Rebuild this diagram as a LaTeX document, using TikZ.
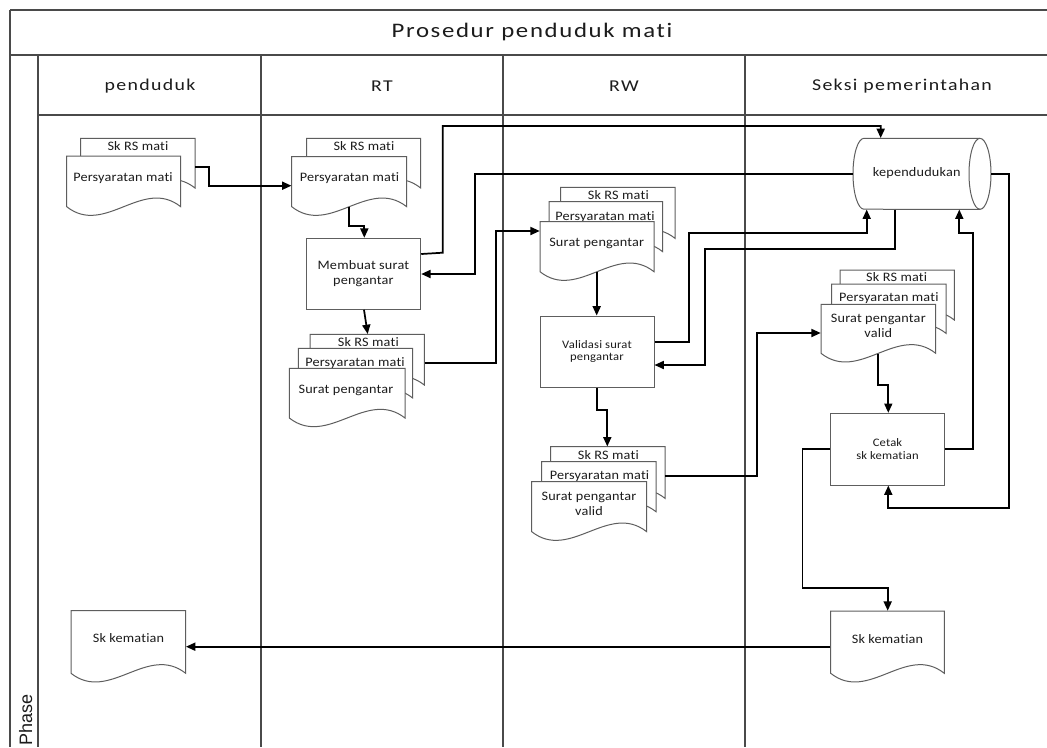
\documentclass[tikz,border=0pt]{standalone}
\usepackage{fontspec}
\setmainfont{Carlito}[Ligatures=NoCommon]
\newfontfamily\hdfont{Carlito}[FakeStretch=1.2, LetterSpace=8, Ligatures=NoCommon]
\newfontfamily\dcfont{Carlito}[FakeStretch=1.1, LetterSpace=1.5, Ligatures=NoCommon]
\newfontfamily\phfont{Liberation Sans}
\usetikzlibrary{arrows.meta,fit}

\definecolor{framegray}{HTML}{4A4A4A}
\definecolor{sheetgray}{HTML}{5E5E5E}
\definecolor{inkcol}{HTML}{1C1C1C}

\tikzset{
  frame/.style={draw=framegray, line width=0.8pt},
  sheet/.style={draw=sheetgray, line width=0.75pt, fill=white},
  procbox/.style={draw=sheetgray, line width=0.75pt, fill=white, inner sep=0pt, align=center, text=inkcol},
  flow/.style={draw=black, line width=1.3pt, -{Triangle[length=7pt,width=6pt]}},
  doctext/.style={font=\dcfont\fontsize{9.7pt}{10.8pt}\selectfont, align=center, inner sep=0pt, text=inkcol},
  lanetext/.style={font=\hdfont\fontsize{12.4pt}{15pt}\selectfont, inner sep=0pt, text=inkcol},
  titletext/.style={font=\hdfont\fontsize{15.5pt}{19pt}\selectfont, inner sep=0pt, text=inkcol},
  area/.style={inner sep=0pt, draw=none},
}

% document sheet with a wavy lower edge: name, x1, y1, x2, y2
\newcommand\docsheet[5]{%
  \path[sheet] (#2,#3) -- (#4,#3) -- (#4,#5)
    .. controls ({#4-(#4-#2)/3},{#5-30}) and ({#2+(#4-#2)/3},{#5+30}) .. (#2,#5) -- cycle;
  \node[area, fit={(#2,#3) (#4,#5)}] (#1) {};
}

\begin{document}
\begin{tikzpicture}[x=0.75pt, y=-0.75pt]
\useasboundingbox (0,0) rectangle (1047,747);
\fill[white] (0,0) rectangle (1047,747);
\clip (0,0) rectangle (1047,747);

% pool frame, title bar and swimlanes
\draw[frame] (10,10) -- (1047,10);
\draw[frame] (10,55) -- (1047,55);
\draw[frame] (10,10) -- (10,747);
\draw[frame] (38,55) -- (38,747);
\draw[frame] (38,115) -- (1047,115);
\draw[frame] (261,55) -- (261,747);
\draw[frame] (503,55) -- (503,747);
\draw[frame] (745,55) -- (745,747);

\node[titletext] (title) at (532,32) {Prosedur penduduk mati};
\node[lanetext] (lane1) at (150,86) {penduduk};
\node[lanetext] (lane2) at (382,86) {RT};
\node[lanetext] (lane3) at (624,86) {RW};
\node[lanetext] (lane4) at (902,86) {Seksi pemerintahan};
\node[font=\phfont\fontsize{13.5pt}{15pt}\selectfont, rotate=90, anchor=base west, inner sep=0pt, text=inkcol] (phase) at (32,746) {Phase};

% penduduk
\docsheet{penSk}{80.7}{138.3}{195}{188}
\node[doctext] (penSk-t) at (138,146) {Sk RS mati};
\docsheet{penPers}{66.7}{156}{180.7}{206.7}
\node[doctext] (penPers-t) at (123,178) {Persyaratan mati};

\docsheet{penKem}{71}{610.7}{185.7}{673.3}
\node[doctext] (penKem-t) at (128.5,638.5) {Sk kematian};

% RT
\docsheet{rtSk}{306.7}{138.3}{420.7}{188}
\node[doctext] (rtSk-t) at (364,146) {Sk RS mati};
\docsheet{rtPers}{291.7}{156.7}{406.7}{206.7}
\node[doctext] (rtPers-t) at (349.5,178) {Persyaratan mati};

\node[procbox, minimum width=86pt, minimum height=53.25pt, font=\dcfont\fontsize{9.7pt}{11.2pt}\selectfont] (rtBox) at (363.4,273.8) {Membuat surat\\pengantar};

\docsheet{rtSk2}{310}{334.3}{424.3}{385}
\node[doctext] (rtSk2-t) at (368.3,341.7) {Sk RS mati};
\docsheet{rtPers2}{298.3}{348.3}{412.7}{398}
\node[doctext] (rtPers2-t) at (355,362.7) {Persyaratan mati};
\docsheet{rtSur}{289.3}{368.3}{405}{418}
\node[doctext] (rtSur-t) at (346,390) {Surat pengantar};

% RW
\docsheet{rwSk}{560.7}{187.3}{675}{238.3}
\node[doctext] (rwSk-t) at (618.3,195) {Sk RS mati};
\docsheet{rwPers}{549}{201.7}{662.7}{251.7}
\node[doctext] (rwPers-t) at (605,216.7) {Persyaratan mati};
\docsheet{rwSur}{540}{221.7}{654}{271.7}
\node[doctext] (rwSur-t) at (596.7,243.3) {Surat pengantar};

\node[procbox, minimum width=85.5pt, minimum height=53.5pt, font=\dcfont\fontsize{8.6pt}{9.2pt}\selectfont] (rwBox) at (597,351.7) {Validasi surat\\pengantar};

\docsheet{rwSk2}{550.7}{446.7}{665}{498.3}
\node[doctext] (rwSk2-t) at (608.3,455) {Sk RS mati};
\docsheet{rwPers2}{541.7}{461.7}{656}{511.7}
\node[doctext] (rwPers2-t) at (599.5,476) {Persyaratan mati};
\docsheet{rwSur2}{531.7}{481.7}{646.7}{531.7}
\node[doctext] (rwSur2-t) at (589,503.7) {Surat pengantar\\valid};

% Seksi pemerintahan: kependudukan store
\path[sheet] (864,138.3) arc[start angle=90, end angle=270, x radius=8.25pt, y radius=26.6pt]
  -- (980,209.3) arc[start angle=270, end angle=450, x radius=8.25pt, y radius=26.6pt] -- cycle;
\draw[sheetgray, line width=0.75pt] (980,138.3) arc[start angle=90, end angle=270, x radius=8.25pt, y radius=26.6pt];
\node[area, fit={(853,138.3) (991,209.3)}] (cyl) {};
\node[doctext] (cyl-t) at (916.7,173.3) {kependudukan};

\docsheet{skSk}{840}{270}{954.3}{320}
\node[doctext] (skSk-t) at (896.7,277.3) {Sk RS mati};
\docsheet{skPers}{831.7}{284}{946}{333.3}
\node[doctext] (skPers-t) at (888.8,298.3) {Persyaratan mati};
\docsheet{skSur}{821}{304.3}{935.7}{353.3}
\node[doctext] (skSur-t) at (878.3,326) {Surat pengantar\\valid};

\node[procbox, minimum width=85.2pt, minimum height=53.8pt, font=\dcfont\fontsize{8.6pt}{9.3pt}\selectfont] (skBox) at (887.5,449.2) {Cetak\\sk kematian};

\docsheet{skKem}{830.7}{611}{944.3}{673.3}
\node[doctext] (skKem-t) at (887.5,639) {Sk kematian};

% flows
\draw[flow] (penSk.east |- 0,166.7) -| (209,185.7) -- (rtPers.west |- 0,185.7);
\draw[flow] (349.3,0 |- rtPers.south) |- (364.3,226) -- (364.3,0 |- rtBox.north);
\draw[flow] (364,0 |- rtBox.south) -- (367.7,0 |- rtSk2.north);
\draw[flow] (rtBox.east |- 0,254) -- (442.7,252.7) |- (880.7,126) -- (880.7,0 |- cyl.north);
\draw[flow] (cyl.west) -| (475,274) -- (rtBox.east |- 0,274);
\draw[flow] (rtSk2.east |- 0,363.3) -| (496,231) -- (rwSur.west |- 0,231);
\draw[flow] (596.7,0 |- rwSur.south) -- (596.7,0 |- rwBox.north);
\draw[flow] (596.7,0 |- rwBox.south) |- (607.3,410) -- (607.3,0 |- rwSk2.north);
\draw[flow] (rwBox.east |- 0,341.7) -| (689,232.7) -| (866.7,0 |- cyl.south);
\draw[flow] (895,0 |- cyl.south) |- (705,249.3) |- (rwBox.east |- 0,365);
\draw[flow] (rwSk2.east |- 0,476) -| (757,333) -- (skSur.west |- 0,333);
\draw[flow] (878.3,0 |- skSur.south) |- (888.3,385) -- (888.3,0 |- skBox.north);
\draw[flow] (skBox.east |- 0,449.3) -| (973.3,232.7) -| (959.3,0 |- cyl.south);
\draw[flow] (cyl.east) -| (1009.3,508.3) -| (888.3,0 |- skBox.south);
\draw[flow] (skBox.west |- 0,449.3) -| (802.5,587.7) -| (887.7,0 |- skKem.north);
\draw[flow] (skKem.west |- 0,646.7) -- (penKem.east |- 0,646.7);
\end{tikzpicture}
\end{document}
